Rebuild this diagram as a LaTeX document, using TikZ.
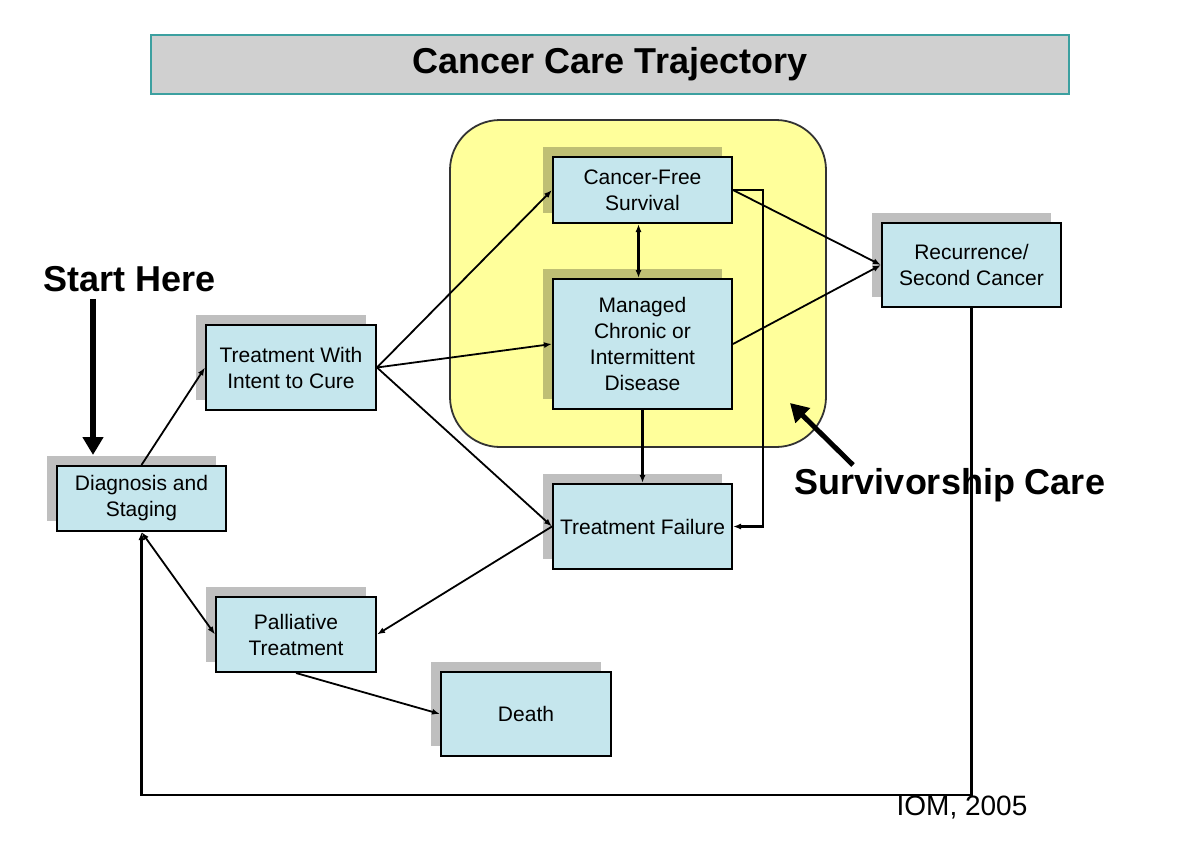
\documentclass[tikz,border=0pt]{standalone}
\usepackage{fontspec}
\setmainfont{Liberation Sans}
\usetikzlibrary{arrows.meta,shadows}
\definecolor{boxblue}{RGB}{197,230,237}
\definecolor{zoneyellow}{RGB}{255,255,155}
\definecolor{titlegray}{RGB}{208,208,208}
\definecolor{titleteal}{RGB}{60,160,160}
\begin{document}
\begin{tikzpicture}[x=0.5pt, y=-0.5pt,
	stage/.style={draw, line width=1pt, fill=boxblue, align=center, inner sep=2pt,
		font=\fontsize{10.5}{13}\selectfont,
		drop shadow={shadow xshift=-5pt, shadow yshift=5pt, fill=black, opacity=0.25}},
	link/.style={line width=0.9pt, -{Latex[length=4pt,width=3pt]}},
	twoway/.style={line width=0.9pt, {Latex[length=4pt,width=3pt]}-{Latex[length=4pt,width=3pt]}},
	biglabel/.style={font=\fontsize{18}{21}\selectfont\bfseries},
	bigarrow/.style={line width=3pt, -{Triangle[length=9pt,width=10pt]}}]
		\useasboundingbox (0,0) rectangle (1200,851);

		\node[draw=titleteal, line width=1pt, fill=titlegray, minimum width=459pt, minimum height=29.5pt, biglabel] (title) at (610,64.5) {Cancer Care Trajectory};

		% survivorship zone
		\draw[fill=zoneyellow, draw=black!80, line width=0.9pt, rounded corners=25pt] (450,120) rectangle (826,447);

		\node[stage, minimum width=84.5pt, minimum height=32.5pt] (diag) at (141.5,498.5) {Diagnosis and\\Staging};
		\node[stage, minimum width=85pt, minimum height=42.5pt] (treat) at (291,367.5) {Treatment With\\Intent to Cure};
		\node[stage, minimum width=89.5pt, minimum height=33pt] (cfree) at (642.5,190) {Cancer-Free\\Survival};
		\node[stage, minimum width=89.5pt, minimum height=65pt] (managed) at (642.5,344) {Managed\\Chronic or\\Intermittent\\Disease};
		\node[stage, minimum width=89.5pt, minimum height=42pt] (recur) at (971.5,265) {Recurrence/\\Second Cancer};
		\node[stage, minimum width=89.5pt, minimum height=42.5pt] (fail) at (642.5,526.5) {Treatment Failure};
		\node[stage, minimum width=80pt, minimum height=37.5pt] (pall) at (296,634.5) {Palliative\\Treatment};
		\node[stage, minimum width=85pt, minimum height=42pt] (death) at (526,714) {Death};

		\node[biglabel] (start) at (130,279) {Start Here};
		\node[biglabel] (surv) at (950,485) {Survivorship Care};
		\node[font=\fontsize{14}{16}\selectfont] (iom) at (962,808) {IOM, 2005};

		\coordinate (starttip) at (93,455);
		\coordinate (survtail) at (853,465);
		\coordinate (survtip) at (790,403);
		\draw[bigarrow] (starttip |- start.south) -- (starttip);
		\draw[bigarrow, line width=2.5pt] (survtail) -- (survtip);

		\path (diag.north) edge[link] (treat.west)
		(treat.east) edge[link] (cfree.west)
		(treat.east) edge[link] (managed.west)
		(treat.east) edge[link] (fail.west)
		([xshift=-2pt]cfree.south) edge[twoway, line width=1.1pt] ([xshift=-2pt]managed.north)
		(cfree.east) edge[link] (recur.west)
		(managed.east) edge[link] (recur.west)
		(managed.south) edge[link, line width=1.1pt] (fail.north)
		(fail.west) edge[link] (pall.east)
		(pall.west) edge[twoway] (diag.south)
		(pall.south) edge[link] (death.west);

		\draw[link, line width=1.1pt] (cfree.east) -- ([xshift=15pt]cfree.east) |- (fail.east);
		\draw[link, line width=1.1pt] (recur.south) -- (recur.south |- 0,795) -| (diag.south);
	\end{tikzpicture}
\end{document}
